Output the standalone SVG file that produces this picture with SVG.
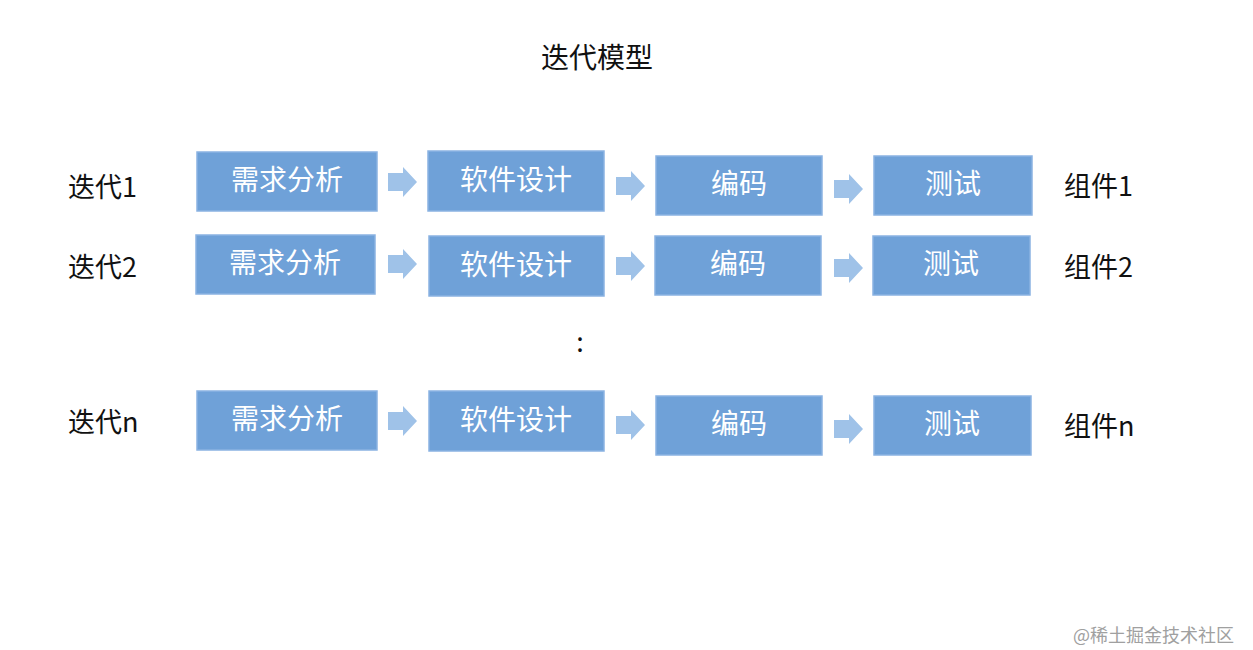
<svg xmlns="http://www.w3.org/2000/svg" width="1253" height="650" viewBox="0 0 1253 650">
<defs>
<style>
.box{fill:#6fa1d8;stroke:#8ab3e2;stroke-width:1.5}
.bt{font-family:"Noto Sans CJK SC","Noto Sans",sans-serif;font-size:28px;fill:#ffffff;text-anchor:middle;dominant-baseline:central}
.lb{font-family:"Noto Sans CJK SC","Noto Sans",sans-serif;font-size:27px;fill:#111111;dominant-baseline:central}
.ar{fill:#9fc2e8}
</style>
<path id="arr" d="M0,-9 H15 V-15 L29,0 L15,15 V9 H0 Z"/>
</defs>
<rect width="1253" height="650" fill="#ffffff"/>
<text x="597" y="56" class="lb" text-anchor="middle" style="font-size:28px">迭代模型</text>

<g id="row1">
<g id="r1n1"><rect class="box" x="197" y="152" width="180" height="59"/><text class="bt" x="287" y="178">需求分析</text></g>
<g id="r1n2"><rect class="box" x="428" y="151" width="176" height="60"/><text class="bt" x="516" y="178">软件设计</text></g>
<g id="r1n3"><rect class="box" x="656" y="156" width="166" height="59"/><text class="bt" x="739" y="182">编码</text></g>
<g id="r1n4"><rect class="box" x="874" y="156" width="158" height="59"/><text class="bt" x="953" y="182">测试</text></g>
<g id="r1l"><text class="lb" x="68" y="185">迭代1</text></g>
<g id="r1r"><text class="lb" x="1064" y="184">组件1</text></g>
</g>

<g id="row2">
<g id="r2n1"><rect class="box" x="196" y="235" width="179" height="59"/><text class="bt" x="285" y="261">需求分析</text></g>
<g id="r2n2"><rect class="box" x="429" y="236" width="175" height="60"/><text class="bt" x="516" y="263">软件设计</text></g>
<g id="r2n3"><rect class="box" x="655" y="236" width="166" height="59"/><text class="bt" x="738" y="262">编码</text></g>
<g id="r2n4"><rect class="box" x="873" y="236" width="157" height="59"/><text class="bt" x="951" y="262">测试</text></g>
<g id="r2l"><text class="lb" x="68" y="265">迭代2</text></g>
<g id="r2r"><text class="lb" x="1064" y="265">组件2</text></g>
</g>

<text x="580" y="340" class="lb" text-anchor="middle">:</text>

<g id="rown">
<g id="rnn1"><rect class="box" x="197" y="391" width="180" height="59"/><text class="bt" x="287" y="417">需求分析</text></g>
<g id="rnn2"><rect class="box" x="429" y="391" width="175" height="60"/><text class="bt" x="516" y="418">软件设计</text></g>
<g id="rnn3"><rect class="box" x="656" y="396" width="166" height="59"/><text class="bt" x="739" y="422">编码</text></g>
<g id="rnn4"><rect class="box" x="874" y="396" width="157" height="59"/><text class="bt" x="952" y="422">测试</text></g>
<g id="rnl"><text class="lb" x="68" y="420">迭代n</text></g>
<g id="rnr"><text class="lb" x="1064" y="424">组件n</text></g>
</g>

<g id="connectors" class="ar">
<use href="#arr" x="388" y="182"/>
<use href="#arr" x="616" y="186"/>
<use href="#arr" x="834" y="189"/>
<use href="#arr" x="388" y="264"/>
<use href="#arr" x="616" y="266"/>
<use href="#arr" x="834" y="268"/>
<use href="#arr" x="388" y="421"/>
<use href="#arr" x="616" y="425"/>
<use href="#arr" x="834" y="429"/>
</g>

<text x="1073" y="634" font-family="'Noto Sans CJK SC','Noto Sans',sans-serif" font-size="18" fill="#a0a0a0" dominant-baseline="central">@稀土掘金技术社区</text>
</svg>
